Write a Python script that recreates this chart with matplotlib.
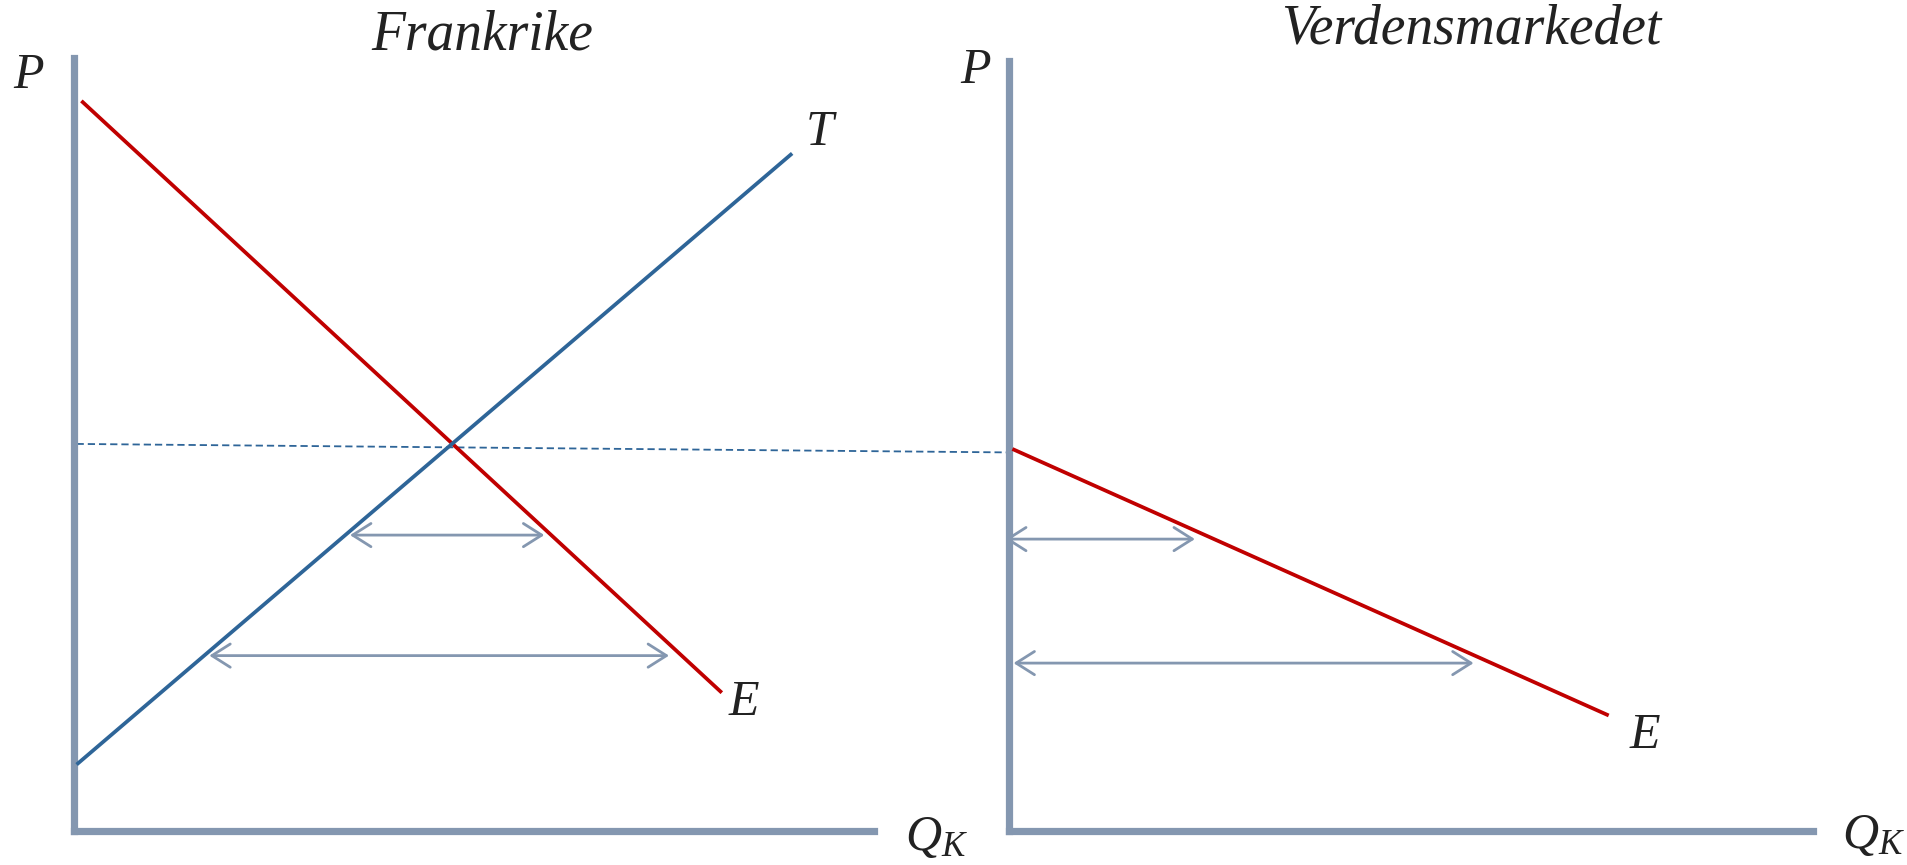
import matplotlib
matplotlib.use("Agg")
import matplotlib.pyplot as plt
from matplotlib.patches import FancyArrowPatch

plt.rcParams['mathtext.fontset'] = 'custom'
plt.rcParams['mathtext.it'] = 'Liberation Serif:italic'
plt.rcParams['mathtext.rm'] = 'Liberation Serif'

# ---- data (economic units, 0..10 on each axis) ----
# Frankrike (left panel)
demand_fr_x = [0.09, 8.10]
demand_fr_y = [9.45, 1.79]
supply_fr_x = [0.03, 8.98]
supply_fr_y = [0.86, 8.77]
price_line_x = [0.03, 11.70]
price_line_y = [5.01, 4.90]
arrows_fr = [((3.45, 3.83), (5.88, 3.83)), ((1.69, 2.27), (7.44, 2.27))]

# Verdensmarkedet (right panel)
demand_w_x = [0.046, 7.46]
demand_w_y = [4.96, 1.50]
arrows_w = [((-0.045, 3.79), (2.315, 3.79)), ((0.06, 2.18), (5.78, 2.18))]

titles = ["Frankrike", "Verdensmarkedet"]

AXIS_C = '#8497B0'
RED = '#C00000'
BLUE = '#2E6598'
W, H = 1908, 865

fig = plt.figure(figsize=(W / 100, H / 100), dpi=100)

def make_ax(left_px, bottom_px, right_px, top_px):
    ax = fig.add_axes([left_px / W, 1 - bottom_px / H,
                       (right_px - left_px) / W, (bottom_px - top_px) / H])
    ax.set_xlim(0, 10)
    ax.set_ylim(0, 10)
    for s in ['top', 'right']:
        ax.spines[s].set_visible(False)
    for s in ['left', 'bottom']:
        ax.spines[s].set_linewidth(5.2)
        ax.spines[s].set_color(AXIS_C)
        ax.spines[s].set_capstyle('projecting')
    ax.set_xticks([])
    ax.set_yticks([])
    ax.patch.set_alpha(0)
    return ax

ax1 = make_ax(74.2, 831, 873.7, 58.4)
ax2 = make_ax(1008.7, 831, 1813, 60.8)

def arrow(ax, p0, p1):
    a = FancyArrowPatch(p0, p1, arrowstyle='<->,head_length=0.6,head_width=0.38',
                        mutation_scale=22, color=AXIS_C, lw=2.0,
                        shrinkA=0, shrinkB=0, clip_on=False)
    ax.add_patch(a)

# left panel
ax1.plot(price_line_x, price_line_y, color=BLUE, lw=1.3, ls=(0, (4, 2.2)),
         clip_on=False, zorder=1)
ax1.plot(demand_fr_x, demand_fr_y, color=RED, lw=2.7, solid_capstyle='butt', zorder=3)
ax1.plot(supply_fr_x, supply_fr_y, color=BLUE, lw=2.7, solid_capstyle='butt', zorder=3)
for p0, p1 in arrows_fr:
    arrow(ax1, p0, p1)

# right panel
ax2.plot(demand_w_x, demand_w_y, color=RED, lw=2.7, solid_capstyle='butt', zorder=3)
for p0, p1 in arrows_w:
    arrow(ax2, p0, p1)

def ftext(x, y, s, size, ha='center'):
    fig.text(x / W, 1 - y / H, s, fontsize=size, ha=ha, va='center',
             family='Liberation Serif', style='italic', color='#222222')

ftext(482, 35, titles[0], 40)
ftext(1471, 30, titles[1], 40)
ftext(29, 76, '$P$', 36)
ftext(976, 71, '$P$', 36)
ftext(821, 133, '$T$', 36)
ftext(744, 703, '$E$', 36)
ftext(1645, 736, '$E$', 36)
ftext(905, 838, '$Q_K$', 36, ha='left')
ftext(1842, 836, '$Q_K$', 36, ha='left')

fig.savefig('out.png', dpi=100)
